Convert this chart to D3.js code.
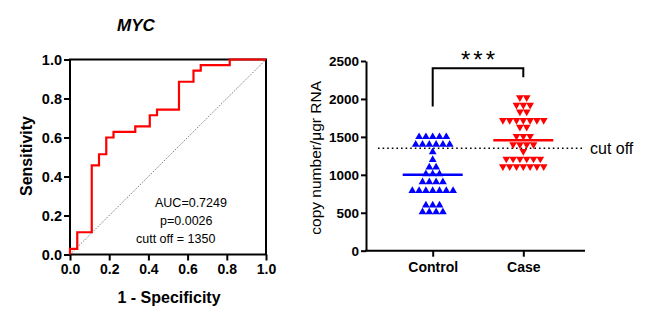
<!DOCTYPE html>
<html>
<head>
<meta charset="utf-8">
<script src="https://cdn.jsdelivr.net/npm/d3@7"></script>
<style>
  body { margin: 0; background: #fff; }
  svg { display: block; font-family: "Liberation Sans", Arial, sans-serif; }
</style>
</head>
<body>
<svg id="chart" width="648" height="322"></svg>
<script>
// ---- ROC curve data (1 - specificity, sensitivity at each threshold corner) ----
const chartTitle = "MYC";
const rocFpr = [0, 0.037, 0.111, 0.148, 0.185, 0.222, 0.333, 0.407, 0.444, 0.556, 0.630, 0.667, 0.815, 1.0];
const rocTpr = [0, 0.029, 0.114, 0.457, 0.514, 0.600, 0.629, 0.657, 0.714, 0.743, 0.886, 0.943, 0.971, 1.0];
const rocTicks = [0, 0.2, 0.4, 0.6, 0.8, 1.0];
const rocStats = ["AUC=0.7249", "p=0.0026", "cutt off = 1350"];

// ---- Copy number per group ----
const groups = ["Control", "Case"];
const controlValues = [
  1500, 1500, 1500, 1500, 1500,
  1400, 1400, 1400, 1400, 1400, 1400,
  1300,
  1200,
  1100, 1100,
  1010, 1010, 1010,
  905, 905, 905, 905,
  790, 790, 790, 790, 790, 790, 790,
  600, 600, 600,
  510, 510, 510, 510
];
const caseValues = [
  2020, 2020,
  1920, 1920, 1920,
  1830, 1830,
  1720, 1720, 1720, 1720, 1720, 1720, 1720,
  1630, 1630,
  1510, 1510, 1510,
  1400, 1400, 1400, 1400,
  1310,
  1210, 1210, 1210, 1210, 1210, 1210,
  1110, 1110, 1110, 1110, 1110, 1110, 1110
];
const groupMeans = [1000, 1455];
const groupColors = ["#0000ff", "#ff0000"];
const cutoffValue = 1350;
const cutoffLabel = "cut off";
const valueTicks = [0, 500, 1000, 1500, 2000, 2500];
const bracketValues = [1900, 2405, 2285];
const significance = "***";

const svg = d3.select("#chart");

// ================= Left panel: ROC curve =================
const rx = d3.scaleLinear().domain([0, 1]).range([70, 266]);
const ry = d3.scaleLinear().domain([0, 1]).range([254.5, 59.5]);
const left = svg.append("g");

left.append("text")
  .attr("x", 136).attr("y", 31)
  .attr("text-anchor", "middle")
  .style("font-size", "17px").style("font-weight", "bold").style("font-style", "italic")
  .text(chartTitle);

// reference diagonal
left.append("line")
  .attr("x1", rx(0)).attr("y1", ry(0)).attr("x2", rx(1)).attr("y2", ry(1))
  .attr("stroke", "#444").attr("stroke-width", 0.8).attr("stroke-dasharray", "1.2,1.4");

const yAxisL = d3.axisLeft(ry).tickValues(rocTicks).tickFormat(d3.format(".1f")).tickSize(6).tickPadding(2);
const xAxisL = d3.axisBottom(rx).tickValues(rocTicks).tickFormat(d3.format(".1f")).tickSize(6).tickPadding(4);

function styleAxis(g, size) {
  g.select(".domain").remove();
  g.selectAll(".tick line").attr("stroke", "#000").attr("stroke-width", 2);
  g.selectAll(".tick text")
    .attr("fill", "#000")
    .style("font-family", "'Liberation Sans', Arial, sans-serif")
    .style("font-size", size).style("font-weight", "bold");
}

left.append("g").attr("transform", `translate(${rx(0)},0)`).call(yAxisL).call(g => styleAxis(g, "14.5px"));
left.append("g").attr("transform", `translate(0,${ry(0)})`).call(xAxisL).call(g => styleAxis(g, "14px"));

// frame
left.append("rect")
  .attr("x", rx(0)).attr("y", ry(1))
  .attr("width", rx(1) - rx(0)).attr("height", ry(0) - ry(1))
  .attr("fill", "none").attr("stroke", "#000").attr("stroke-width", 2);

// ROC staircase
const rocPoints = rocFpr.map((f, i) => [f, rocTpr[i]]);
left.append("path")
  .datum(rocPoints)
  .attr("fill", "none").attr("stroke", "#ff0000").attr("stroke-width", 2.2)
  .attr("d", d3.line().x(d => rx(d[0])).y(d => ry(d[1])).curve(d3.curveStepBefore));

left.append("text")
  .attr("transform", "translate(32,156) rotate(-90)")
  .attr("text-anchor", "middle")
  .style("font-size", "16px").style("font-weight", "bold")
  .text("Sensitivity");

left.append("text")
  .attr("x", 169).attr("y", 303)
  .attr("text-anchor", "middle")
  .style("font-size", "16px").style("font-weight", "bold")
  .text("1 - Specificity");

const statPos = [[155, 207], [160, 225], [136, 243]];
left.selectAll("text.stat").data(rocStats).join("text")
  .attr("class", "stat")
  .attr("x", (d, i) => statPos[i][0]).attr("y", (d, i) => statPos[i][1])
  .style("font-size", "12.5px")
  .text(d => d);

// ================= Right panel: scatter dot plot =================
const vy = d3.scaleLinear().domain([0, 2500]).range([250.7, 61]);
const gx = d3.scalePoint().domain(groups).range([432.7, 523.3]);
const axisX0 = 366, axisX1 = 585;
const right = svg.append("g");

const yAxisR = d3.axisLeft(vy).tickValues(valueTicks).tickFormat(d3.format("d"))
  .tickSize(5).tickPadding(2).tickSizeOuter(0);
right.append("g").attr("transform", `translate(${axisX0},0)`).call(yAxisR)
  .call(g => {
    g.select(".domain").attr("stroke", "#000").attr("stroke-width", 2);
    g.selectAll(".tick line").attr("stroke", "#000").attr("stroke-width", 2);
    g.selectAll(".tick text").attr("fill", "#000")
      .style("font-family", "'Liberation Sans', Arial, sans-serif")
      .style("font-size", "13.5px").style("font-weight", "bold");
  });

const xAxisR = d3.axisBottom(gx).tickSize(6).tickPadding(5);
right.append("g").attr("transform", `translate(0,${vy(0)})`).call(xAxisR)
  .call(g => styleAxis(g, "14px"));
right.append("line")
  .attr("x1", axisX0 - 1).attr("x2", axisX1).attr("y1", vy(0)).attr("y2", vy(0))
  .attr("stroke", "#000").attr("stroke-width", 2);

right.append("text")
  .attr("transform", `translate(321,${(vy(0) + vy(2500)) / 2 + 2}) rotate(-90)`)
  .attr("text-anchor", "middle")
  .style("font-size", "15.5px")
  .text("copy number/\u03bcgr RNA");

// cut-off line
right.append("line")
  .attr("x1", 378).attr("x2", 584).attr("y1", vy(cutoffValue)).attr("y2", vy(cutoffValue))
  .attr("stroke", "#000").attr("stroke-width", 1.6).attr("stroke-dasharray", "1.6,3");
right.append("text")
  .attr("x", 590).attr("y", vy(cutoffValue) + 5.5)
  .style("font-size", "16px")
  .text(cutoffLabel);

// points: rows of equal values spread symmetrically around the group centre
const spacing = 6.8;
function rowLayout(values) {
  const rows = d3.group(values, v => v);
  const out = [];
  for (const [v, arr] of rows) {
    const n = arr.length;
    arr.forEach((_, i) => out.push({ value: v, dx: (i - (n - 1) / 2) * spacing }));
  }
  return out;
}
const tri = d3.symbol().type(d3.symbolTriangle).size(26);
[controlValues, caseValues].forEach((vals, gi) => {
  const cx = gx(groups[gi]);
  const rot = gi === 0 ? 0 : 180;
  right.append("g").selectAll("path").data(rowLayout(vals)).join("path")
    .attr("d", tri)
    .attr("fill", groupColors[gi])
    .attr("transform", d => `translate(${cx + d.dx},${vy(d.value)}) rotate(${rot})`);
  // group mean
  right.append("line")
    .attr("x1", cx - 30).attr("x2", cx + 30)
    .attr("y1", vy(groupMeans[gi])).attr("y2", vy(groupMeans[gi]))
    .attr("stroke", groupColors[gi]).attr("stroke-width", 2.4);
});

// significance bracket
right.append("path")
  .attr("d", d3.line()([
    [gx(groups[0]), vy(bracketValues[0])],
    [gx(groups[0]), vy(bracketValues[1])],
    [gx(groups[1]), vy(bracketValues[1])],
    [gx(groups[1]), vy(bracketValues[2])]
  ]))
  .attr("fill", "none").attr("stroke", "#000").attr("stroke-width", 2);
right.append("text")
  .attr("x", (gx(groups[0]) + gx(groups[1])) / 2 + 1.5).attr("y", 68)
  .attr("text-anchor", "middle")
  .style("font-size", "24px").style("letter-spacing", "3px")
  .text(significance);
</script>
</body>
</html>
